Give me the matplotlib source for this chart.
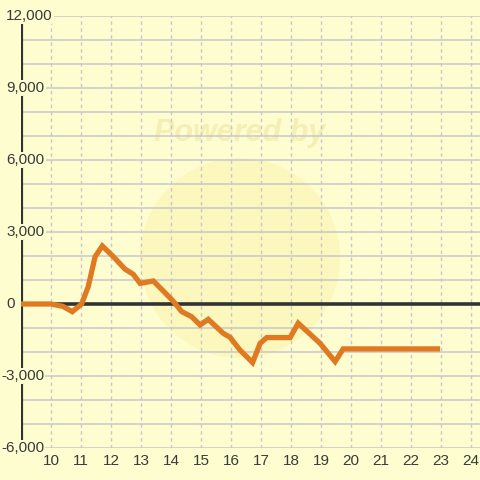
import matplotlib
matplotlib.use("Agg")
import matplotlib.pyplot as plt
from matplotlib.patches import Circle

# ---- data ----
hours = [9.0, 10.0, 10.4, 10.71, 11.02, 11.24, 11.47, 11.71, 12.08, 12.47, 12.74,
         12.97, 13.41, 13.73, 14.05, 14.36, 14.69, 14.97, 15.24, 15.74, 15.97,
         16.3, 16.72, 16.97, 17.19, 17.97, 18.24, 18.97, 19.47, 19.74, 22.97]
values = [0, 0, -100, -320, 0, 720, 1970, 2420, 1970, 1450, 1240,
          860, 960, 560, 150, -320, -530, -875, -640, -1220, -1390,
          -1920, -2440, -1640, -1400, -1400, -800, -1640, -2400, -1870, -1870]
x_ticks = list(range(10, 25))
y_ticks = [12000, 9000, 6000, 3000, 0, -3000, -6000]
y_tick_labels = ["12,000", "9,000", "6,000", "3,000", "0", "-3,000", "-6,000"]

plt.rcParams["font.family"] = ["Liberation Sans", "DejaVu Sans"]

BG = "#FDFDD0"
GRID = "#C8C8CC"
DARK = "#333333"
LINE = "#E07A22"
TXT = "#3A3A3A"

W, H = 480, 480
fig = plt.figure(figsize=(W / 100, H / 100), dpi=100, facecolor=BG)
ax = fig.add_axes([21 / W, 32 / H, 459 / W, 432 / H])
ax.set_facecolor(BG)
ax.set_xlim(9, 24.3)
ax.set_ylim(-6000, 12000)
for s in ax.spines.values():
    s.set_visible(False)
ax.set_xticks([])
ax.set_yticks([])

# watermark (below everything in the axes)
circ = Circle((240 / W, 1 - 258 / H), 100 / W, transform=fig.transFigure,
              facecolor="#F8EC9A", alpha=0.35, edgecolor="none", zorder=0.2)
ax.add_patch(circ)
ax.text(240 / W, 1 - 133 / H, "Powered by", transform=fig.transFigure,
        ha="center", va="center", fontsize=22, fontweight="bold",
        style="italic", color="#EFE3A0", alpha=0.55, zorder=0.5)

# horizontal grid every 1000
for v in range(-6000, 12001, 1000):
    ax.axhline(v, color=GRID, lw=1.1, zorder=1)
# vertical dashed grid
for xt in x_ticks:
    ax.axvline(xt, color=GRID, lw=1.0, ls=(0, (2.5, 2.5)), zorder=1)

# y axis line and zero line
ax.plot([9, 9], [-6000, 12000], color=DARK, lw=3.0, zorder=2, solid_capstyle="butt")
ax.axhline(0, color=DARK, lw=2.6, zorder=2)

# series
ax.plot(hours, values, color=LINE, lw=3.8, zorder=4,
        solid_joinstyle="miter", solid_capstyle="butt")

# x tick labels
for xt in x_ticks:
    fig.text((21 + (xt - 9) * 30) / W, 1 - 461 / H, str(xt), ha="center",
             va="center", fontsize=11, color=TXT, zorder=5)

# y tick labels with background boxes
for v, lab in zip(y_ticks, y_tick_labels):
    ypx = 1 - (304 - v * 24 / 1000) / H
    if v < 0:
        fig.text(44 / W, ypx, lab, ha="right", va="center", fontsize=11,
                 color=TXT, zorder=6,
                 bbox=dict(facecolor=BG, edgecolor="none", pad=1.0))
    else:
        fig.text(6 / W, ypx, lab, ha="left", va="center", fontsize=11,
                 color=TXT, zorder=6,
                 bbox=dict(facecolor=BG, edgecolor="none", pad=1.0))

fig.savefig("out.png", dpi=100, facecolor=BG)
